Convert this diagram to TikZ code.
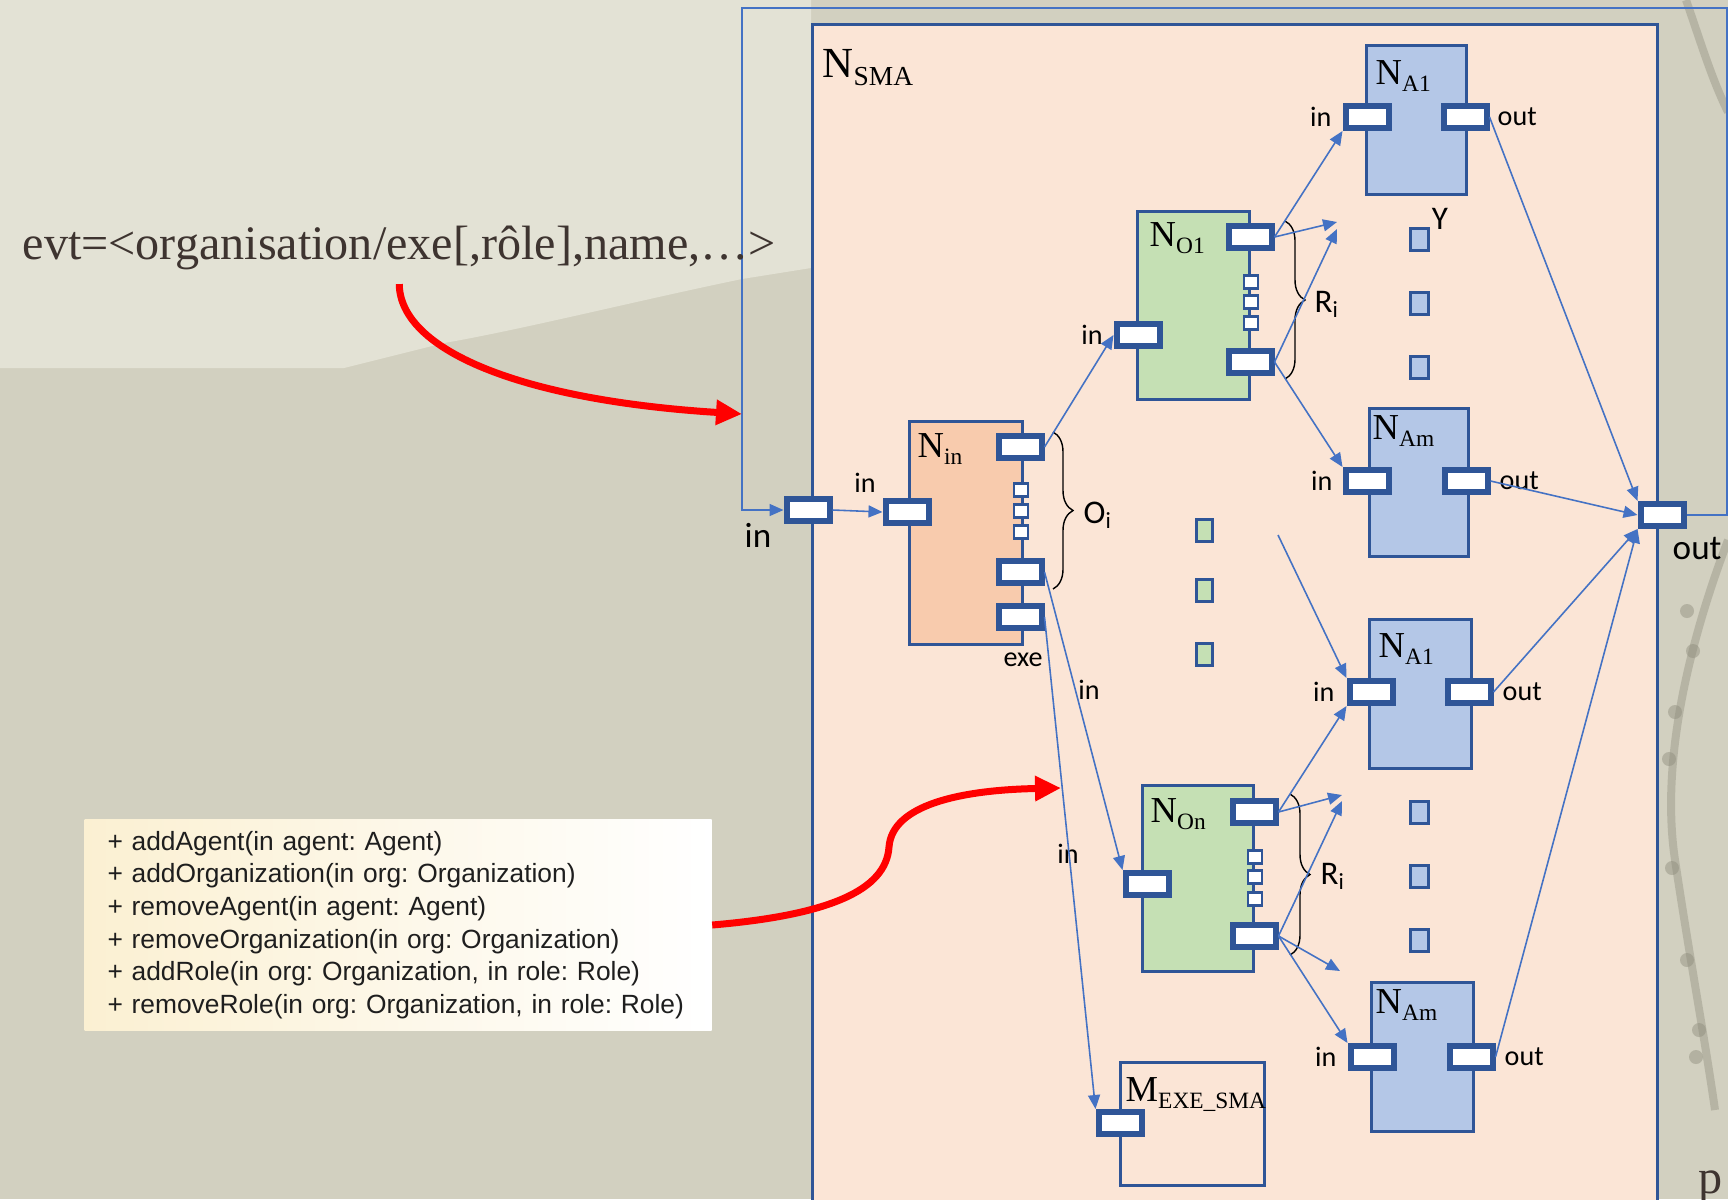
\documentclass[tikz,border=0pt]{standalone}
\usepackage{fontspec}
\setmainfont{Liberation Serif}
\newfontfamily\calibri{Carlito}
\newfontfamily\arial{Liberation Sans}
\usetikzlibrary{arrows.meta,decorations.pathreplacing}
\frenchspacing

\definecolor{bgdark}{HTML}{D2D0C0}
\definecolor{bglight}{HTML}{E3E2D5}
\definecolor{twigcol}{HTML}{8E8C7C}
\definecolor{smafill}{HTML}{FBE5D6}
\definecolor{infill}{HTML}{F8CBAD}
\definecolor{orgfill}{HTML}{C5E0B4}
\definecolor{agfill}{HTML}{B4C7E7}
\definecolor{edge}{HTML}{2F5597}
\definecolor{linkblue}{HTML}{4472C4}
\definecolor{evtbrown}{HTML}{3E3430}
\definecolor{umlcream}{HTML}{FBF0D2}
\definecolor{umltext}{HTML}{1E1E1E}

% smaller, lowered index for the box names
\newcommand{\sublabel}[1]{\raisebox{-0.2em}{\scalebox{0.64}{#1}}}

\tikzset{
  block/.style={draw=edge, line width=0.3mm, inner sep=0pt},
  port/.style={draw=edge, fill=white, line width=0.6mm, minimum width=4.3mm, minimum height=2.2mm, inner sep=0pt},
  miniport/.style={draw=edge, fill=white, line width=0.25mm, minimum width=1.4mm, minimum height=1.3mm, inner sep=0pt},
  dotbox/.style={draw=edge, line width=0.3mm, minimum width=1.8mm, minimum height=2.2mm, inner sep=0pt},
  link/.style={draw=linkblue, line width=0.45pt, -{Triangle[length=1.4mm,width=1.2mm]}},
  redarrow/.style={draw=red, line width=0.7mm, -{Triangle[length=2.6mm,width=2.4mm]}},
  setbrace/.style={draw, thin, decorate, decoration={brace, amplitude=2mm}},
  boxtitle/.style={font=\fontsize{10.4}{12}\selectfont, inner sep=0pt, anchor=base west},
  lbl/.style={font=\calibri\fontsize{8}{9}\selectfont, inner sep=0pt},
  biglbl/.style={font=\calibri\fontsize{10}{12}\selectfont, inner sep=0pt},
  setlbl/.style={font=\calibri\fontsize{9.4}{11}\selectfont, inner sep=0pt, anchor=west},
  twig/.style={draw=twigcol, line width=0.8mm, opacity=0.4},
}

\begin{document}
\begin{tikzpicture}[x=0.1mm, y=-0.1mm]
  \useasboundingbox (0,0) rectangle (1728,1199);
  % paper background
  \fill[bgdark] (0,0) rectangle (1728,1199);
  \fill[bglight] (0,0) -- (811,0) -- (811,268) -- (742,279) .. controls (640,300) and (520,330) .. (444,343) -- (344,368) -- (0,368) -- cycle;
  \draw[twig] (1686,0) .. controls (1700,40) and (1712,80) .. (1728,112);
  \draw[twig] (1728,540) .. controls (1690,640) and (1660,760) .. (1675,860) .. controls (1690,960) and (1705,1040) .. (1715,1110);
  \foreach \p in {(1687,611),(1693,651),(1675,712),(1669,759),(1672,868),(1687,960),(1699,1030),(1696,1057)}
    \fill[twigcol, opacity=0.45] \p circle[radius=0.7mm];

  % system box
  \node (sma) [block, fill=smafill, minimum width=84.5mm, minimum height=120mm, anchor=north west] at (811,23) {};
  \node (smatitle) [boxtitle, font=\fontsize{12.2}{14}\selectfont] at (822,77) {N\sublabel{SMA}};

  % units
  \node (nin) [block, fill=infill, minimum width=11.3mm, minimum height=22.3mm] at (965.5,532.5) {};
  \node (no1) [block, fill=orgfill, minimum width=11.2mm, minimum height=18.8mm] at (1193,305) {};
  \node (non) [block, fill=orgfill, minimum width=11.1mm, minimum height=18.6mm] at (1197.5,878) {};
  \node (na1t) [block, fill=agfill, minimum width=10mm, minimum height=14.9mm] at (1416,119.5) {};
  \node (namt) [block, fill=agfill, minimum width=9.9mm, minimum height=14.8mm] at (1418.5,482) {};
  \node (na1l) [block, fill=agfill, minimum width=10.2mm, minimum height=14.9mm] at (1420,693.5) {};
  \node (naml) [block, fill=agfill, minimum width=10.2mm, minimum height=14.9mm] at (1422,1056.5) {};
  \node (mexe) [block, minimum width=14.4mm, minimum height=12.3mm] at (1192,1123.5) {};

  \node (nintitle) [boxtitle] at (917,457) {N\sublabel{in}};
  \node (no1title) [boxtitle] at (1149,246) {N\sublabel{O1}};
  \node (nontitle) [boxtitle] at (1150,822) {N\sublabel{On}};
  \node (na1ttitle) [boxtitle] at (1375,84) {N\sublabel{A1}};
  \node (namttitle) [boxtitle] at (1372,439) {N\sublabel{Am}};
  \node (na1ltitle) [boxtitle] at (1378,657) {N\sublabel{A1}};
  \node (namltitle) [boxtitle] at (1375,1013) {N\sublabel{Am}};
  \node (mexetitle) [boxtitle] at (1125,1101) {M\sublabel{EXE\_SMA}};

  % braces over the role / organisation ports
  \draw[setbrace] (1053,432) -- (1053,589);
  \draw[setbrace] (1285,221) -- (1285,379);
  \draw[setbrace] (1290,794) -- (1290,955);

  % ports
  \node (smain) [port] at (808,510) {};
  \node (sout) [port] at (1662,515) {};
  \node (ninin) [port] at (907,512) {};
  \node (ninr1) [port] at (1020,447) {};
  \node (ninr2) [port] at (1020,572) {};
  \node (ninexe) [port] at (1020,617) {};
  \foreach \y in {490,511,532}
    \node (ninm\y) [miniport] at (1021,\y) {};
  \node (no1in) [port] at (1138,335) {};
  \node (no1r1) [port] at (1250,237) {};
  \node (no1r2) [port] at (1250,362) {};
  \foreach \y in {282,302,323}
    \node (no1m\y) [miniport] at (1251,\y) {};
  \node (nonin) [port] at (1147,884) {};
  \node (nonr1) [port] at (1254,812) {};
  \node (nonr2) [port] at (1254,936) {};
  \foreach \y in {857,877,899}
    \node (nonm\y) [miniport] at (1255,\y) {};
  \node (na1tin) [port] at (1367,117) {};
  \node (na1tout) [port] at (1465,117) {};
  \node (namtin) [port] at (1367,481) {};
  \node (namtout) [port] at (1466,481) {};
  \node (na1lin) [port] at (1371,692) {};
  \node (na1lout) [port] at (1469,692) {};
  \node (namlin) [port] at (1372,1057) {};
  \node (namlout) [port] at (1471,1057) {};
  \node (mexein) [port] at (1120,1123) {};

  % dots between the units
  \foreach \y in {530,590,654}
    \node (odot\y) [dotbox, fill=orgfill, minimum width=1.6mm] at (1204,\y) {};
  \foreach \y in {239,303,367,812,876,940}
    \node (adot\y) [dotbox, fill=agfill] at (1419,\y) {};

  % port names
  \node (smainlbl) [biglbl] at (758,535) {in};
  \node (soutlbl) [biglbl, anchor=west] at (1672,548) {out};
  \node (nininlbl) [lbl] at (865,483) {in};
  \node (ninexelbl) [lbl] at (1023,660) {exe};
  \node (no1inlbl) [lbl] at (1092,335) {in};
  \node (r2inlbl) [lbl] at (1089,690) {in};
  \node (exeinlbl) [lbl] at (1068,854) {in};
  \node (na1tinlbl) [lbl, anchor=east] at (1332,117) {in};
  \node (na1toutlbl) [lbl, anchor=west] at (1497,117) {out};
  \node (namtinlbl) [lbl, anchor=east] at (1333,481) {in};
  \node (namtoutlbl) [lbl, anchor=west] at (1499,481) {out};
  \node (na1linlbl) [lbl, anchor=east] at (1335,692) {in};
  \node (na1loutlbl) [lbl, anchor=west] at (1502,692) {out};
  \node (namlinlbl) [lbl, anchor=east] at (1337,1057) {in};
  \node (namloutlbl) [lbl, anchor=west] at (1504,1057) {out};
  \node (oilbl) [setlbl] at (1083,515) {O\textsubscript{i}};
  \node (ri1lbl) [setlbl] at (1314,304) {R\textsubscript{i}};
  \node (ri2lbl) [setlbl] at (1320,876) {R\textsubscript{i}};
  \node (ylbl) [setlbl, anchor=center] at (1440,219) {Y};

  % free arrow ends
  \coordinate (o1y1) at (1337,222);
  \coordinate (o1y2) at (1337,229);
  \coordinate (ony1) at (1342,795);
  \coordinate (ony2) at (1342,801);
  \coordinate (ony3) at (1340,971);
  \coordinate (a1ltail) at (1278,535);

  % links
  \draw[link] (sout.east) -| (1727,8) -- (742,8) |- (smain.west);% feedback loop
  \draw[link] (smain.east) -- (ninin.west);
  \draw[link] (ninr1.east) -- (no1in.west);
  \draw[link] (ninr2.east) -- (nonin.north west);
  \draw[link] (ninexe.east) -- (mexein.north west);
  \draw[link] (no1r1.east) -- (na1tin.south west);
  \draw[link] (no1r1.east) -- (o1y1);
  \draw[link] (no1r2.east) -- (o1y2);
  \draw[link] (no1r2.east) -- (namtin.north west);
  \draw[link] (a1ltail) -- (na1lin.north west);
  \draw[link] (nonr1.east) -- (na1lin.south west);
  \draw[link] (nonr1.east) -- (ony1);
  \draw[link] (nonr2.east) -- (ony2);
  \draw[link] (nonr2.east) -- (ony3);
  \draw[link] (nonr2.east) -- (namlin.north west);
  \draw[link] (na1tout.east) -- (sout.north west);
  \draw[link] (namtout.east) -- (sout.west);
  \draw[link] (na1lout.east) -- (sout.south west);
  \draw[link] (namlout.east) -- (sout.south west);

  % event text and operations list
  \node (evt) [anchor=base west, inner sep=0pt, text=evtbrown, font=\fontsize{13.7}{16}\selectfont] at (22,259) {evt=<organisation/exe[,rôle],name,…>};
  \node (ops) [left color=umlcream, right color=white, minimum height=20mm, text width=58.1mm, inner xsep=2.3mm, align=left,
    text=umltext, font=\arial\fontsize{7.5}{9.3}\selectfont] at (398,925)
    {+ addAgent(in agent: Agent)\\
     + addOrganization(in org: Organization)\\
     + removeAgent(in agent: Agent)\\
     + removeOrganization(in org: Organization)\\
     + addRole(in org: Organization, in role: Role)\\
     + removeRole(in org: Organization, in role: Role)};
  \node (pg) [anchor=base west, inner sep=0pt, text=evtbrown, font=\fontsize{13.7}{16}\selectfont] at (1698,1193) {p};

  \coordinate (evttip) at (742,414);
  \coordinate (opstip) at (1061,788);
  \draw[redarrow] ([yshift=-1.4mm]evt.south) .. controls (400,350) and (520,400) .. (evttip);
  \draw[redarrow] (ops.east) .. controls (830,915) and (886,890) .. (889,847) .. controls (892,805) and (960,790) .. (opstip);
\end{tikzpicture}
\end{document}
